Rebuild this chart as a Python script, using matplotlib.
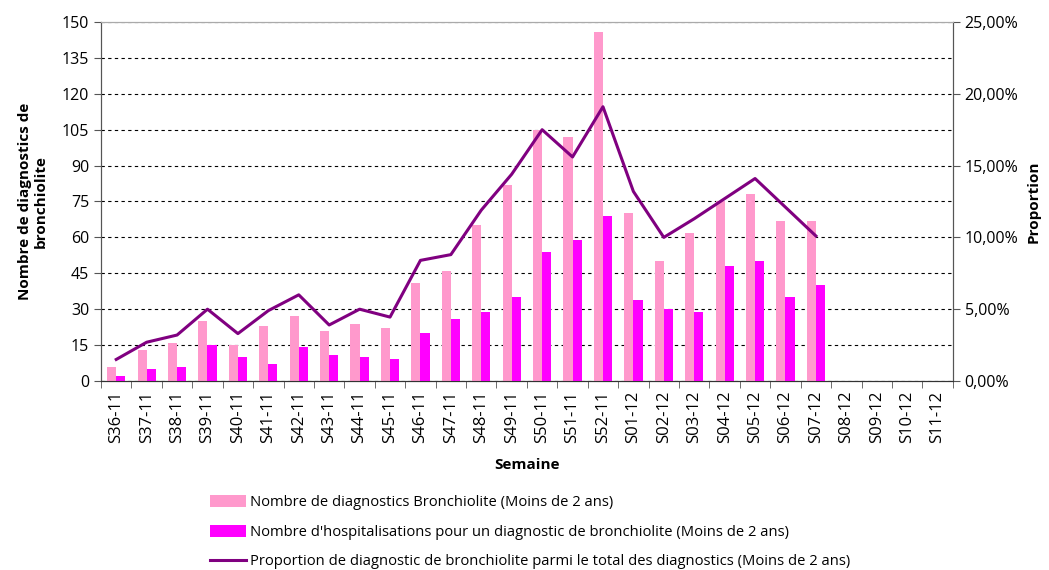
import matplotlib.pyplot as plt
import numpy as np
from matplotlib.ticker import FuncFormatter

plt.rcParams['font.family'] = ['Open Sans', 'DejaVu Sans']

# Data
semaines = ["S36-11", "S37-11", "S38-11", "S39-11", "S40-11", "S41-11", "S42-11",
            "S43-11", "S44-11", "S45-11", "S46-11", "S47-11", "S48-11", "S49-11",
            "S50-11", "S51-11", "S52-11", "S01-12", "S02-12", "S03-12", "S04-12",
            "S05-12", "S06-12", "S07-12", "S08-12", "S09-12", "S10-12", "S11-12"]
diagnostics = [6, 13, 16, 25, 15, 23, 27, 21, 24, 22, 41, 46, 65, 82,
               105, 102, 146, 70, 50, 62, 75, 78, 67, 67]
hospitalisations = [2, 5, 6, 15, 10, 7, 14, 11, 10, 9, 20, 26, 29, 35,
                    54, 59, 69, 34, 30, 29, 48, 50, 35, 40]
proportion = [1.5, 2.7, 3.2, 5.0, 3.3, 4.9, 6.0, 3.9, 5.0, 4.45, 8.4, 8.8, 11.9, 14.4,
              17.5, 15.6, 19.1, 13.2, 10.0, 11.3, 12.7, 14.1, 12.1, 10.1]

n = len(semaines)
x = np.arange(n)
nd = len(diagnostics)

fig = plt.figure(figsize=(10.49, 5.70), dpi=100)
ax = fig.add_axes([0.0963, 0.3316, 0.812, 0.6298])
ax2 = ax.twinx()

w = 0.3
ax.bar(x[:nd] - w / 2, diagnostics, width=w, color='#FF99CC', zorder=3,
       label='Nombre de diagnostics Bronchiolite (Moins de 2 ans)')
ax.bar(x[:nd] + w / 2, hospitalisations, width=w, color='#FF00FF', zorder=3,
       label="Nombre d'hospitalisations pour un diagnostic de bronchiolite (Moins de 2 ans)")
ax2.plot(x[:nd], proportion, color='#800080', linewidth=2.2,
         label='Proportion de diagnostic de bronchiolite parmi le total des diagnostics (Moins de 2 ans)')

ax.set_xlim(-0.5, n - 0.5)
ax.set_ylim(0, 150)
ax2.set_ylim(0, 25)
ax.set_yticks(np.arange(0, 151, 15))
ax2.set_yticks(np.arange(0, 26, 5))
ax2.yaxis.set_major_formatter(FuncFormatter(lambda v, p: f"{v:.2f}".replace('.', ',') + '%'))

ax.grid(axis='y', linestyle=(0, (3, 3)), color='black', linewidth=0.8, zorder=0)
ax.set_axisbelow(True)

ax.set_xticks(x)
ax.set_xticklabels(semaines, rotation=90, fontsize=12)
ax.set_xticks(np.arange(-0.5, n, 1), minor=True)
ax.tick_params(axis='x', which='major', length=0, pad=7)
ax.tick_params(axis='x', which='minor', length=5, direction='out', color='#555555')
ax.tick_params(axis='y', labelsize=11.5, length=5, color='#555555')
ax2.tick_params(axis='y', labelsize=11.5, length=5, color='#555555')

for a in (ax, ax2):
    a.spines['top'].set_color('#AAAAAA')
    a.spines['left'].set_color('#555555')
    a.spines['right'].set_color('#555555')
    a.spines['bottom'].set_color('#333333')

ax.set_xlabel('Semaine', fontsize=11, fontweight='bold', labelpad=11)
ax.set_ylabel('Nombre de diagnostics de\nbronchiolite', fontsize=11, fontweight='bold', labelpad=10)
ax2.set_ylabel('Proportion', fontsize=11, fontweight='bold', labelpad=6)

h1, l1 = ax.get_legend_handles_labels()
h2, l2 = ax2.get_legend_handles_labels()
fig.legend(h1 + h2, l1 + l2, loc='upper left', bbox_to_anchor=(0.188, 0.155),
           frameon=False, fontsize=10.6, handlelength=2.4, handleheight=0.9,
           handletextpad=0.3, labelspacing=0.98)

plt.savefig('out.png', dpi=100)
